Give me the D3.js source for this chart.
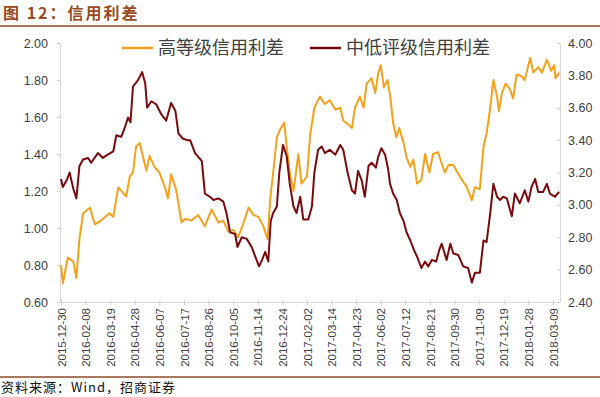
<!DOCTYPE html>
<html lang="zh">
<head>
<meta charset="UTF-8">
<title>信用利差</title>
<style>
  html, body { margin: 0; padding: 0; background: #fff; }
  svg { display: block; }
  .tick text { font-family: "Liberation Sans", Arial, sans-serif; fill: #404040; }
</style>
</head>
<body>
<div id="chart"></div>
<script src="https://cdn.jsdelivr.net/npm/d3@7"></script>
<script>
// 高等级信用利差 (left axis)
const hgDates = ["2015-12-30","2016-01-02","2016-01-10","2016-01-19","2016-01-24","2016-01-29","2016-02-04","2016-02-15","2016-02-23","2016-03-04",
  "2016-03-18","2016-03-24","2016-04-01","2016-04-09","2016-04-14","2016-04-20","2016-04-25","2016-04-30","2016-05-06","2016-05-11",
  "2016-05-17","2016-05-22","2016-05-30","2016-06-07","2016-06-16","2016-06-21","2016-06-26","2016-07-04","2016-07-13","2016-07-19",
  "2016-07-29","2016-08-09","2016-08-20","2016-08-31","2016-09-11","2016-09-19","2016-09-27","2016-10-05","2016-10-13","2016-10-21",
  "2016-10-30","2016-11-07","2016-11-15","2016-11-23","2016-11-30","2016-12-04","2016-12-09","2016-12-15","2016-12-20","2016-12-27",
  "2016-12-31","2017-01-05","2017-01-11","2017-01-19","2017-01-24","2017-02-02","2017-02-07","2017-02-14","2017-02-23","2017-03-03",
  "2017-03-11","2017-03-20","2017-03-28","2017-04-02","2017-04-10","2017-04-16","2017-04-21","2017-04-29","2017-05-05","2017-05-10",
  "2017-05-18","2017-05-24","2017-05-29","2017-06-02","2017-06-07","2017-06-13","2017-06-17","2017-06-22","2017-06-27","2017-07-02",
  "2017-07-09","2017-07-14","2017-07-20","2017-07-25","2017-07-31","2017-08-07","2017-08-13","2017-08-20","2017-08-26","2017-09-03",
  "2017-09-06","2017-09-14","2017-09-20","2017-09-28","2017-10-03","2017-10-12","2017-10-20","2017-10-28","2017-11-02","2017-11-10",
  "2017-11-16","2017-11-21","2017-11-27","2017-12-02","2017-12-08","2017-12-11","2017-12-16","2017-12-22","2017-12-29","2018-01-03",
  "2018-01-09","2018-01-17","2018-01-22","2018-01-31","2018-02-05","2018-02-13","2018-02-19","2018-02-27","2018-03-06","2018-03-11",
  "2018-03-13","2018-03-19"];
const hgValues = [0.80,0.70,0.84,0.82,0.73,0.94,1.08,1.11,1.02,1.04,
  1.08,1.06,1.22,1.19,1.17,1.28,1.30,1.44,1.46,1.39,
  1.31,1.39,1.33,1.30,1.22,1.16,1.29,1.21,1.03,1.05,
  1.04,1.07,1.01,1.10,1.03,1.04,0.98,0.99,0.95,1.02,
  1.11,1.07,1.06,1.01,0.94,1.15,1.30,1.49,1.53,1.57,
  1.44,1.30,1.20,1.40,1.24,1.28,1.50,1.65,1.71,1.67,
  1.69,1.64,1.65,1.58,1.56,1.54,1.65,1.71,1.65,1.78,
  1.81,1.73,1.84,1.88,1.76,1.80,1.72,1.57,1.49,1.54,
  1.46,1.38,1.33,1.37,1.24,1.26,1.40,1.30,1.40,1.41,
  1.38,1.30,1.34,1.34,1.31,1.26,1.22,1.15,1.22,1.21,
  1.44,1.51,1.65,1.80,1.71,1.63,1.73,1.78,1.75,1.70,
  1.83,1.82,1.80,1.92,1.84,1.87,1.84,1.91,1.85,1.88,
  1.81,1.84];

// 中低评级信用利差 (right axis)
const lgDates = ["2015-12-30","2016-01-02","2016-01-08","2016-01-13","2016-01-19","2016-01-24","2016-01-29","2016-02-04","2016-02-12","2016-02-17",
  "2016-02-28","2016-03-07","2016-03-15","2016-03-24","2016-03-29","2016-04-06","2016-04-12","2016-04-17","2016-04-21","2016-04-25",
  "2016-05-03","2016-05-10","2016-05-15","2016-05-18","2016-05-25","2016-06-02","2016-06-10","2016-06-18","2016-06-26","2016-07-03",
  "2016-07-08","2016-07-15","2016-07-22","2016-07-27","2016-08-04","2016-08-15","2016-08-20","2016-08-28","2016-09-03","2016-09-11",
  "2016-09-19","2016-09-24","2016-09-30","2016-10-08","2016-10-12","2016-10-19","2016-10-27","2016-11-04","2016-11-09","2016-11-16",
  "2016-11-21","2016-11-26","2016-12-01","2016-12-05","2016-12-09","2016-12-15","2016-12-19","2016-12-25","2016-12-31","2017-01-05",
  "2017-01-11","2017-01-16","2017-01-22","2017-01-27","2017-02-04","2017-02-10","2017-02-14","2017-02-20","2017-02-26","2017-03-03",
  "2017-03-11","2017-03-20","2017-03-28","2017-04-02","2017-04-09","2017-04-16","2017-04-21","2017-04-26","2017-05-02","2017-05-07",
  "2017-05-13","2017-05-18","2017-05-25","2017-05-29","2017-06-03","2017-06-09","2017-06-14","2017-06-17","2017-06-22","2017-06-28",
  "2017-07-03","2017-07-09","2017-07-14","2017-07-20","2017-07-26","2017-07-31","2017-08-07","2017-08-13","2017-08-18","2017-08-24",
  "2017-08-31","2017-09-05","2017-09-09","2017-09-17","2017-09-23","2017-09-28","2017-10-06","2017-10-14","2017-10-22","2017-10-28",
  "2017-11-02","2017-11-10","2017-11-16","2017-11-21","2017-11-27","2017-12-02","2017-12-08","2017-12-13","2017-12-18","2017-12-24",
  "2018-01-01","2018-01-06","2018-01-14","2018-01-22","2018-01-28","2018-02-02","2018-02-08","2018-02-13","2018-02-21","2018-02-27",
  "2018-03-04","2018-03-12","2018-03-19"];
const lgValues = [3.16,3.11,3.15,3.20,3.10,3.04,3.24,3.28,3.29,3.26,
  3.32,3.29,3.31,3.33,3.43,3.42,3.48,3.54,3.51,3.73,
  3.77,3.82,3.75,3.60,3.64,3.62,3.56,3.52,3.63,3.58,
  3.44,3.41,3.40,3.40,3.32,3.27,3.07,3.05,3.03,3.04,
  3.02,2.95,2.83,2.82,2.74,2.80,2.79,2.74,2.69,2.62,
  2.66,2.71,2.65,2.90,2.95,2.99,3.20,3.37,3.30,3.13,
  2.99,2.95,3.05,2.91,2.91,2.99,3.20,3.34,3.36,3.32,
  3.34,3.31,3.37,3.34,3.20,3.09,3.07,3.21,3.15,3.05,
  3.24,3.26,3.23,3.30,3.35,3.31,3.22,3.13,3.07,3.03,
  2.95,2.90,2.83,2.78,2.72,2.68,2.61,2.65,2.62,2.66,
  2.65,2.72,2.76,2.66,2.76,2.70,2.69,2.62,2.61,2.52,
  2.58,2.58,2.78,2.77,2.95,3.13,3.05,3.03,3.05,3.04,
  2.93,3.07,3.01,3.09,3.02,3.11,3.16,3.08,3.08,3.13,
  3.07,3.05,3.08];

const tickLabels = ["2015-12-30","2016-02-08","2016-03-19","2016-04-28","2016-06-07","2016-07-17","2016-08-26",
  "2016-10-05","2016-11-14","2016-12-24","2017-02-02","2017-03-14","2017-04-23","2017-06-02","2017-07-12",
  "2017-08-21","2017-09-30","2017-11-09","2017-12-19","2018-01-28","2018-03-09"];
const leftTicks = [0.6, 0.8, 1.0, 1.2, 1.4, 1.6, 1.8, 2.0];
const rightTicks = [2.4, 2.6, 2.8, 3.0, 3.2, 3.4, 3.6, 3.8, 4.0];

const seriesNames = ["高等级信用利差", "中低评级信用利差"];
const colors = ["#F5A11C", "#7A0A0E"];

const W = 600, H = 397;
const plot = { left: 60, right: 560, top: 43, bottom: 302 };
const brown = "#8B4A2B";

const parse = d3.utcParse("%Y-%m-%d");

const svg = d3.select("#chart").append("svg")
  .attr("width", W).attr("height", H);

// title + rules
svg.append("text")
  .attr("x", 3).attr("y", 19)
  .attr("font-family", "'Noto Sans CJK SC', sans-serif")
  .attr("font-size", 16).attr("font-weight", "bold")
  .attr("letter-spacing", "2px")
  .attr("fill", "#9A4A1E")
  .text("图 12：信用利差");
svg.append("line").attr("x1", 0).attr("x2", W).attr("y1", 26).attr("y2", 26)
  .attr("stroke", brown).attr("stroke-width", 1.5);
svg.append("line").attr("x1", 0).attr("x2", W).attr("y1", 377).attr("y2", 377)
  .attr("stroke", brown).attr("stroke-width", 1.5);
svg.append("text")
  .attr("x", 1).attr("y", 392)
  .attr("font-family", "'Noto Sans CJK SC', sans-serif")
  .attr("font-size", 13).attr("letter-spacing", "1px").attr("fill", "#111")
  .text("资料来源：Wind，招商证券");

// scales
const x = d3.scaleUtc()
  .domain([parse(tickLabels[0]), parse(tickLabels[tickLabels.length - 1])])
  .range([61, 553]);
const yL = d3.scaleLinear().domain([0.6, 2.0]).range([plot.bottom, plot.top]);
const yR = d3.scaleLinear().domain([2.4, 4.0]).range([plot.bottom, plot.top]);

// axes
const gx = svg.append("g")
  .attr("transform", `translate(0,${plot.bottom})`)
  .call(d3.axisBottom(x).tickValues(tickLabels.map(parse)).tickSize(4).tickSizeOuter(0)
    .tickFormat(d3.utcFormat("%Y-%m-%d")));
gx.select(".domain").attr("d", `M${plot.left},0.5H${plot.right}`);
gx.selectAll(".tick line").attr("stroke", "#d0d0d0").attr("y1", -2).attr("y2", 3);
gx.selectAll(".tick text")
  .attr("font-size", 11.5)
  .attr("transform", "rotate(-90)")
  .attr("text-anchor", "end")
  .attr("x", -6).attr("y", 0).attr("dy", "0.35em");

const gl = svg.append("g")
  .attr("transform", `translate(${plot.left},0)`)
  .call(d3.axisLeft(yL).tickValues(leftTicks).tickFormat(d3.format(".2f")).tickSize(3).tickSizeOuter(0));
gl.selectAll(".tick text").attr("font-size", 12.5).attr("x", -12);

const gr = svg.append("g")
  .attr("transform", `translate(${plot.right},0)`)
  .call(d3.axisRight(yR).tickValues(rightTicks).tickFormat(d3.format(".2f")).tickSize(3).tickSizeOuter(0));
gr.selectAll(".tick text").attr("font-size", 12.5).attr("x", 8);

svg.selectAll(".domain").attr("stroke", "#d9d9d9");
gl.selectAll(".tick line").attr("stroke", "#d0d0d0");
gr.selectAll(".tick line").attr("stroke", "#d0d0d0").attr("x1", -3).attr("x2", 0);

// lines
const hg = hgDates.map((d, i) => ({ date: parse(d), v: hgValues[i] }));
const lg = lgDates.map((d, i) => ({ date: parse(d), v: lgValues[i] }));

svg.append("path").datum(hg)
  .attr("fill", "none").attr("stroke", colors[0]).attr("stroke-width", 2)
  .attr("stroke-linejoin", "round")
  .attr("d", d3.line().x(d => x(d.date)).y(d => yL(d.v)));
svg.append("path").datum(lg)
  .attr("fill", "none").attr("stroke", colors[1]).attr("stroke-width", 2)
  .attr("stroke-linejoin", "round")
  .attr("d", d3.line().x(d => x(d.date)).y(d => yR(d.v)));

// legend
const legendPos = [122, 310];
seriesNames.forEach((name, i) => {
  const g = svg.append("g").attr("transform", `translate(${legendPos[i]},48)`);
  g.append("line").attr("x1", 0).attr("x2", 31).attr("stroke", colors[i]).attr("stroke-width", 2.5);
  g.append("text").attr("x", 36).attr("dy", "0.35em")
    .attr("font-family", "'Noto Sans CJK SC', sans-serif")
    .attr("font-size", 18).attr("fill", "#404040")
    .text(name);
});
</script>
</body>
</html>
